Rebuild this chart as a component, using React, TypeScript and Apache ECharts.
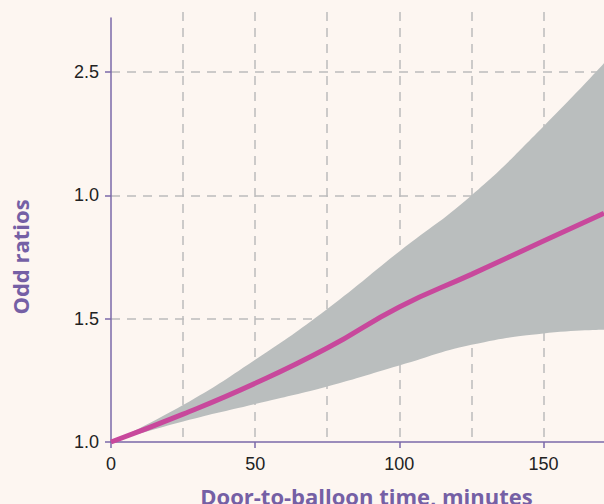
import React, { useEffect, useRef } from 'react';
import * as echarts from 'echarts';

// Door-to-balloon time (minutes)
const xMinutes = [0, 25, 50, 75, 100, 125, 150, 171];
// Odds ratio curve
const oddsRatio = [1.0, 1.113, 1.238, 1.381, 1.548, 1.68, 1.815, 1.928];
// Confidence band
const lowerCI = [1.0, 1.083, 1.154, 1.225, 1.31, 1.394, 1.44, 1.455];
const upperCI = [1.0, 1.15, 1.334, 1.54, 1.773, 2.0, 2.28, 2.536];

const xTickValues = [0, 50, 100, 150];
const yTickValues = [1.0, 1.5, 2.0, 2.5];
const yTickLabels = ['1.0', '1.5', '1.0', '2.5'];

const xAxisTitle = 'Door-to-balloon time, minutes';
const yAxisTitle = 'Odd ratios';

export default function App() {
  const ref = useRef<HTMLDivElement>(null);

  useEffect(() => {
    document.body.style.margin = '0';
    const chart = echarts.init(ref.current!, null, { renderer: 'svg' });

    const bg = '#fdf6f1';
    const purple = '#7a68a8';
    const titlePurple = '#7560a5';
    const gridGray = '#bcbcbc';
    const clear = 'rgba(0,0,0,0)';
    const labelFont = 'Liberation Sans';

    // value first, minutes second, so that stacking is done on the y dimension
    const lowerData = xMinutes.map((x, i) => [lowerCI[i], x]);
    const bandData = xMinutes.map((x, i) => [upperCI[i] - lowerCI[i], x]);
    const orData = xMinutes.map((x, i) => [x, oddsRatio[i]]);

    chart.setOption({
      animation: false,
      backgroundColor: bg,
      grid: [
        { left: 111, right: 0, top: 18, bottom: 62 },
        { left: 111, right: 0, top: 12, bottom: 62 },
      ],
      xAxis: [
        {
          type: 'value',
          gridIndex: 0,
          min: 0,
          max: 171,
          axisLine: { show: true, lineStyle: { color: purple, width: 1.5 } },
          axisTick: {
            show: true,
            customValues: xTickValues,
            length: 6,
            lineStyle: { color: purple, width: 1.5 },
          },
          axisLabel: {
            customValues: xTickValues,
            margin: 13,
            color: '#222',
            fontSize: 18,
            fontFamily: labelFont,
            formatter: (v: number) => String(v),
          },
          splitLine: { show: false },
        },
        {
          type: 'value',
          gridIndex: 1,
          min: 0,
          max: 171,
          interval: 25,
          axisLine: { show: false },
          axisTick: { show: false },
          axisLabel: { show: false },
          splitLine: {
            show: true,
            lineStyle: {
              color: [clear, gridGray, gridGray, gridGray, gridGray, gridGray, gridGray, clear],
              type: [9, 7],
              width: 1.5,
            },
          },
        },
      ],
      yAxis: [
        {
          type: 'value',
          gridIndex: 0,
          min: 1,
          max: 2.72,
          axisLine: { show: true, lineStyle: { color: purple, width: 1.5 } },
          axisTick: {
            show: true,
            customValues: yTickValues,
            length: 6,
            lineStyle: { color: purple, width: 1.5 },
          },
          axisLabel: {
            customValues: yTickValues,
            margin: 12,
            color: '#222',
            fontSize: 18,
            fontFamily: labelFont,
            formatter: (v: number) => {
              const i = yTickValues.findIndex((t) => Math.abs(t - v) < 1e-6);
              return i >= 0 ? yTickLabels[i] : '';
            },
          },
          splitLine: { show: false },
        },
        {
          type: 'value',
          gridIndex: 0,
          min: 1,
          max: 2.72,
          interval: 0.5,
          axisLine: { show: false },
          axisTick: { show: false },
          axisLabel: { show: false },
          splitLine: {
            show: true,
            lineStyle: {
              color: [clear, gridGray, gridGray, gridGray, clear],
              type: [9, 7],
              width: 1.5,
            },
          },
        },
        {
          type: 'value',
          gridIndex: 1,
          min: 1,
          max: 2.72,
          show: false,
        },
      ],
      series: [
        {
          type: 'line',
          xAxisIndex: 0,
          yAxisIndex: 0,
          data: lowerData,
          encode: { x: 1, y: 0 },
          stack: 'ci',
          smooth: true,
          symbol: 'none',
          silent: true,
          lineStyle: { width: 0, opacity: 0 },
          z: 2,
        },
        {
          type: 'line',
          xAxisIndex: 0,
          yAxisIndex: 0,
          data: bandData,
          encode: { x: 1, y: 0 },
          stack: 'ci',
          smooth: true,
          symbol: 'none',
          silent: true,
          lineStyle: { width: 0, opacity: 0 },
          areaStyle: { color: '#babebe', opacity: 1 },
          z: 2,
        },
        {
          type: 'line',
          xAxisIndex: 0,
          yAxisIndex: 0,
          data: orData,
          smooth: true,
          symbol: 'none',
          silent: true,
          lineStyle: { color: '#c8489c', width: 5 },
          z: 3,
        },
      ],
      graphic: [
        {
          type: 'text',
          x: 20,
          y: 257,
          rotation: Math.PI / 2,
          style: {
            text: yAxisTitle,
            fontSize: 22,
            fontWeight: 'bold',
            fontFamily: 'Open Sans',
            fill: titlePurple,
            align: 'center',
            verticalAlign: 'middle',
          },
        },
        {
          type: 'text',
          x: 366.5,
          y: 496,
          style: {
            text: xAxisTitle,
            fontSize: 22,
            fontWeight: 'bold',
            fontFamily: 'Open Sans',
            fill: titlePurple,
            align: 'center',
            verticalAlign: 'middle',
          },
        },
      ],
    });

    return () => chart.dispose();
  }, []);

  return <div ref={ref} style={{ width: 604, height: 504 }} />;
}
